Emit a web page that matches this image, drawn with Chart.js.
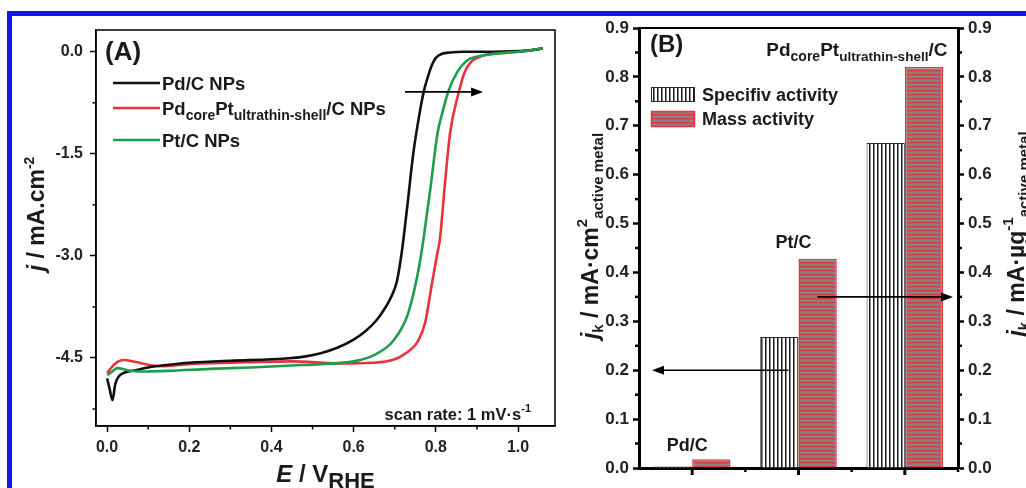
<!DOCTYPE html>
<html>
<head>
<meta charset="utf-8">
<script src="https://cdn.jsdelivr.net/npm/chart.js@4.4.1/dist/chart.umd.min.js"></script>
<style>
  html, body { margin:0; padding:0; background:#fff; }
  body { width:1026px; height:488px; position:relative; overflow:hidden; }
  #marco { position:absolute; left:7px; top:11px; width:1019px; height:477px; border-top:5px solid #1414f0; border-left:5px solid #1414f0; box-sizing:border-box; z-index:5; }
  #boxA { position:absolute; left:0; top:0; width:560px; height:488px; }
  #boxB { position:absolute; left:565px; top:0; width:461px; height:488px; }
</style>
</head>
<body>
<div id="marco"></div>
<div id="boxA"><canvas id="chartA"></canvas></div>
<div id="boxB"><canvas id="chartB"></canvas></div>
<script>
// Datos panel (A): curvas de polarización
const pdE = [0, 0.006, 0.013, 0.02, 0.03, 0.045, 0.07, 0.1, 0.15, 0.2, 0.3, 0.4, 0.45, 0.48, 0.52, 0.56, 0.6, 0.63, 0.655, 0.675, 0.69, 0.705, 0.717, 0.73, 0.745, 0.76, 0.77, 0.78, 0.79, 0.8, 0.815, 0.835, 0.87, 0.93, 1.0, 1.03, 1.06];
const pdJ = [-4.8, -4.95, -5.12, -4.88, -4.76, -4.71, -4.68, -4.64, -4.6, -4.57, -4.54, -4.52, -4.5, -4.48, -4.43, -4.35, -4.23, -4.1, -3.95, -3.78, -3.62, -3.38, -2.95, -2.3, -1.5, -0.92, -0.6, -0.38, -0.2, -0.09, -0.03, -0.01, 0, 0, 0.01, 0.02, 0.05];
const coreE = [0, 0.02, 0.04, 0.07, 0.11, 0.14, 0.2, 0.3, 0.45, 0.565, 0.65, 0.7, 0.722, 0.74, 0.757, 0.774, 0.791, 0.804, 0.81, 0.822, 0.835, 0.856, 0.87, 0.886, 0.913, 0.956, 1.0, 1.03, 1.06];
const coreJ = [-4.72, -4.58, -4.53, -4.56, -4.61, -4.62, -4.59, -4.57, -4.55, -4.58, -4.57, -4.52, -4.45, -4.37, -4.25, -3.98, -3.39, -2.95, -2.75, -1.95, -1.18, -0.59, -0.3, -0.15, -0.06, -0.02, 0, 0.02, 0.05];
const ptE = [0, 0.012, 0.025, 0.05, 0.08, 0.15, 0.25, 0.35, 0.45, 0.52, 0.6, 0.652, 0.696, 0.73, 0.748, 0.761, 0.77, 0.787, 0.804, 0.818, 0.83, 0.852, 0.878, 0.91, 0.956, 1.0, 1.03, 1.06];
const ptJ = [-4.75, -4.7, -4.65, -4.68, -4.7, -4.69, -4.66, -4.64, -4.61, -4.59, -4.55, -4.45, -4.25, -3.89, -3.49, -3.1, -2.75, -2.0, -1.2, -0.85, -0.59, -0.3, -0.12, -0.06, -0.02, 0, 0.02, 0.05];
const xTicksA = [0, 0.2, 0.4, 0.6, 0.8, 1.0];
const xMinorA = [0.1, 0.3, 0.5, 0.7, 0.9];
const yTicksA = [0, -1.5, -3, -4.5];
const yMinorA = [-0.75, -2.25, -3.75, -5.25];

// Datos panel (B): actividades
const categorias = ['Pd/C', 'Pt/C', 'PdcorePt/C'];
const specAct = [0.003, 0.268, 0.665];
const massAct = [0.018, 0.428, 0.82];
const yTicksB = [0, 0.1, 0.2, 0.3, 0.4, 0.5, 0.6, 0.7, 0.8, 0.9];
const yMinorB = [0.05, 0.15, 0.25, 0.35, 0.45, 0.55, 0.65, 0.75, 0.85];

const FONT = '"Liberation Sans", Arial, Helvetica, sans-serif';
const NEGRO = '#111', ROJO = '#e8323c', VERDE = '#1e9e4a';

function setFont(ctx, size, italic) {
    ctx.font = (italic ? 'italic ' : '') + 'bold ' + size + 'px ' + FONT;
}

// texto con subíndices / superíndices
function textoRico(ctx, partes, x, y, align) {
    let w = 0;
    partes.forEach(p => { setFont(ctx, p.s, p.i); w += ctx.measureText(p.t).width; });
    let cx = align === 'center' ? x - w / 2 : (align === 'right' ? x - w : x);
    ctx.textAlign = 'left'; ctx.textBaseline = 'alphabetic';
    partes.forEach(p => {
        setFont(ctx, p.s, p.i);
        ctx.fillText(p.t, cx, y + (p.dy || 0));
        cx += ctx.measureText(p.t).width;
    });
}

function flecha(ctx, x1, y1, x2, y2) {
    const a = Math.atan2(y2 - y1, x2 - x1), L = 12, W = 4.5;
    ctx.beginPath(); ctx.moveTo(x1, y1); ctx.lineTo(x2 - 8 * Math.cos(a), y2 - 8 * Math.sin(a)); ctx.stroke();
    ctx.beginPath();
    ctx.moveTo(x2, y2);
    ctx.lineTo(x2 - L * Math.cos(a) + W * Math.sin(a), y2 - L * Math.sin(a) - W * Math.cos(a));
    ctx.lineTo(x2 - L * Math.cos(a) - W * Math.sin(a), y2 - L * Math.sin(a) + W * Math.cos(a));
    ctx.closePath(); ctx.fill();
}

function linea(ctx, x1, y1, x2, y2) {
    ctx.beginPath(); ctx.moveTo(x1, y1); ctx.lineTo(x2, y2); ctx.stroke();
}

function serie(nombre, xs, ys, color) {
    return {
        label: nombre,
        data: xs.map((v, i) => ({ x: v, y: ys[i] })),
        borderColor: color, borderWidth: 2.6, pointRadius: 0,
        cubicInterpolationMode: 'monotone', fill: false
    };
}

const decoA = {
    id: 'decoA',
    afterDraw(chart) {
        const { ctx, chartArea: a, scales: { x, y } } = chart;
        ctx.save();
        ctx.strokeStyle = '#000'; ctx.fillStyle = '#000'; ctx.lineWidth = 1.5;
        ctx.strokeRect(a.left, a.top, a.right - a.left, a.bottom - a.top);
        xMinorA.forEach(v => { const p = x.getPixelForValue(v); linea(ctx, p, a.bottom, p, a.bottom + 3.5); });
        yMinorA.forEach(v => { const p = y.getPixelForValue(v); linea(ctx, a.left - 3.5, p, a.left, p); });

        // leyenda
        const ley = [
            { c: NEGRO, y: 83, t: [{ t: 'Pd/C NPs', s: 18.5 }] },
            { c: ROJO, y: 108, t: [{ t: 'Pd', s: 18.5 }, { t: 'core', s: 14, dy: 5 }, { t: 'Pt', s: 18.5 }, { t: 'ultrathin-shell', s: 14, dy: 5 }, { t: '/C NPs', s: 18.5 }] },
            { c: VERDE, y: 140, t: [{ t: 'Pt/C NPs', s: 18.5 }] }
        ];
        ley.forEach(l => {
            ctx.strokeStyle = l.c; ctx.lineWidth = 2.6;
            linea(ctx, 113, l.y, 160, l.y);
            ctx.fillStyle = '#1a1a1a';
            textoRico(ctx, l.t, 162, l.y + 6.5, 'left');
        });

        ctx.fillStyle = '#1a1a1a';
        textoRico(ctx, [{ t: '(A)', s: 26 }], 105, 60, 'left');
        textoRico(ctx, [{ t: 'scan rate: 1 mV\u00b7s', s: 16.5 }, { t: '-1', s: 11, dy: -8 }], a.right - 24, a.bottom - 6, 'right');

        // flecha
        ctx.strokeStyle = '#000'; ctx.fillStyle = '#000'; ctx.lineWidth = 1.6;
        flecha(ctx, x.getPixelForValue(0.725), y.getPixelForValue(-0.59), x.getPixelForValue(0.915), y.getPixelForValue(-0.59));

        // títulos de ejes
        ctx.fillStyle = '#1a1a1a';
        textoRico(ctx, [{ t: 'E', s: 24, i: true }, { t: ' / V', s: 24 }, { t: 'RHE', s: 22, dy: 6 }], (a.left + a.right) / 2, 482, 'center');
        ctx.translate(44, 214); ctx.rotate(-Math.PI / 2);
        textoRico(ctx, [{ t: 'j', s: 23, i: true }, { t: ' / mA.cm', s: 23 }, { t: '-2', s: 14, dy: -10 }], 0, 0, 'center');
        ctx.restore();
    }
};

new Chart(document.getElementById('chartA'), {
    type: 'line',
    data: { datasets: [
        serie('Pt/C NPs', ptE, ptJ, VERDE),
        serie('Pd/C NPs', pdE, pdJ, NEGRO),
        serie('Pdcore Ptultrathin-shell/C NPs', coreE, coreJ, ROJO)
    ] },
    options: {
        responsive: true, maintainAspectRatio: false, animation: false,
        layout: { padding: { top: 30, right: 5, left: 0, bottom: 0 } },
        plugins: { legend: { display: false }, tooltip: { enabled: false } },
        scales: {
            x: {
                type: 'linear', min: -0.027, max: 1.09,
                afterBuildTicks: s => { s.ticks = xTicksA.map(v => ({ value: v })); },
                afterFit: s => { s.height = 62; },
                ticks: { callback: v => v.toFixed(1), font: { family: FONT, size: 16, weight: 'bold' }, color: '#222', padding: 6, maxRotation: 0, autoSkip: false },
                grid: { drawOnChartArea: false, tickLength: 6, tickWidth: 1.5, color: '#000' },
                border: { color: '#000', width: 1.5 }
            },
            y: {
                type: 'linear', min: -5.5, max: 0.32,
                afterBuildTicks: s => { s.ticks = yTicksA.map(v => ({ value: v })); },
                afterFit: s => { s.width = 96; },
                ticks: { callback: v => v.toFixed(1), font: { family: FONT, size: 16, weight: 'bold' }, color: '#222', padding: 7 },
                grid: { drawOnChartArea: false, tickLength: 6, tickWidth: 1.5, color: '#000' },
                border: { color: '#000', width: 1.5 }
            }
        }
    },
    plugins: [decoA]
});

// Patrones de relleno de las barras
const ctxB = document.getElementById('chartB').getContext('2d');
function rayasV() {
    const c = document.createElement('canvas'); c.width = 4; c.height = 4;
    const g = c.getContext('2d');
    g.fillStyle = '#fff'; g.fillRect(0, 0, 4, 4);
    g.fillStyle = '#1a1a1a'; g.fillRect(0, 0, 1, 4);
    g.fillStyle = '#8a8a8a'; g.fillRect(1, 0, 1, 4);
    return ctxB.createPattern(c, 'repeat');
}
function rayasH() {
    const c = document.createElement('canvas'); c.width = 4; c.height = 4;
    const g = c.getContext('2d');
    g.fillStyle = '#838383'; g.fillRect(0, 0, 4, 2);
    g.fillStyle = '#d63a4a'; g.fillRect(0, 2, 4, 1);
    g.fillStyle = '#a9616a'; g.fillRect(0, 3, 4, 1);
    return ctxB.createPattern(c, 'repeat');
}
const patV = rayasV(), patH = rayasH();

const decoB = {
    id: 'decoB',
    afterDraw(chart) {
        const { ctx, chartArea: a, scales: { x, y, y1 } } = chart;
        ctx.save();
        ctx.strokeStyle = '#000'; ctx.fillStyle = '#000';
        ctx.lineWidth = 2;
        linea(ctx, a.left, a.top, a.right, a.top);

        // ticks del eje x
        const paso = x.getPixelForValue(1) - x.getPixelForValue(0);
        ctx.lineWidth = 3;
        categorias.forEach((c, i) => { const p = x.getPixelForValue(i); linea(ctx, p, a.bottom, p, a.bottom + 7); });
        ctx.lineWidth = 2.5;
        [0.5, 1.5, 2.5].forEach(v => { const p = x.getPixelForValue(0) + v * paso; linea(ctx, p, a.bottom, p, a.bottom + 4); });
        yMinorB.forEach(v => {
            const p = y.getPixelForValue(v);
            linea(ctx, a.left - 4, p, a.left, p);
            linea(ctx, a.right, p, a.right + 4, p);
        });

        // leyenda
        ctx.lineWidth = 1;
        const lx = a.left + 12;
        ctx.fillStyle = patV; ctx.fillRect(lx, 87, 44, 15);
        ctx.strokeStyle = '#2a2a2a'; ctx.strokeRect(lx + 0.5, 87.5, 43, 14);
        ctx.fillStyle = patH; ctx.fillRect(lx, 111, 44, 16);
        ctx.strokeStyle = ROJO; ctx.lineWidth = 1.5; ctx.strokeRect(lx + 0.5, 111.5, 43, 15);
        ctx.fillStyle = '#1a1a1a';
        textoRico(ctx, [{ t: 'Specifiv activity', s: 18 }], lx + 51, 101, 'left');
        textoRico(ctx, [{ t: 'Mass activity', s: 18 }], lx + 51, 125, 'left');

        // etiquetas
        textoRico(ctx, [{ t: '(B)', s: 24 }], a.left + 11, 52, 'left');
        textoRico(ctx, [{ t: 'Pd/C', s: 18 }], x.getPixelForValue(0) - 5, y1.getPixelForValue(massAct[0]) - 8, 'center');
        textoRico(ctx, [{ t: 'Pt/C', s: 18 }], x.getPixelForValue(1) - 5, y1.getPixelForValue(massAct[1]) - 11, 'center');
        textoRico(ctx, [{ t: 'Pd', s: 19 }, { t: 'core', s: 14, dy: 5 }, { t: 'Pt', s: 19 }, { t: 'ultrathin-shell', s: 13.5, dy: 5 }, { t: '/C', s: 19 }],
            x.getPixelForValue(2) - 48, y1.getPixelForValue(massAct[2]) - 11, 'center');

        // flechas
        ctx.strokeStyle = '#000'; ctx.fillStyle = '#000'; ctx.lineWidth = 1.6;
        flecha(ctx, x.getPixelForValue(1) - 10, y.getPixelForValue(0.2), a.left + 13, y.getPixelForValue(0.2));
        flecha(ctx, x.getPixelForValue(1) + 19, y1.getPixelForValue(0.35), a.right - 5, y1.getPixelForValue(0.35));

        // títulos de ejes
        ctx.fillStyle = '#1a1a1a';
        ctx.save();
        ctx.translate(33, 236); ctx.rotate(-Math.PI / 2);
        textoRico(ctx, [{ t: 'j', s: 23, i: true }, { t: 'k', s: 15, dy: 5 }, { t: ' / mA\u00b7cm', s: 23 }, { t: '2', s: 15, dy: -11 }, { t: 'active metal', s: 15, dy: 5 }], 0, 0, 'center');
        ctx.restore();
        ctx.translate(459, 234); ctx.rotate(-Math.PI / 2);
        textoRico(ctx, [{ t: 'j', s: 23, i: true }, { t: 'k', s: 15, dy: 5 }, { t: ' / mA\u00b7\u00b5g', s: 23 }, { t: '-1', s: 15, dy: -11 }, { t: 'active metal', s: 15, dy: 5 }], 0, 0, 'center');
        ctx.restore();
    }
};

const ejeY = (pos, ancho) => ({
    position: pos, min: 0, max: 0.9,
    afterBuildTicks: s => { s.ticks = yTicksB.map(v => ({ value: v })); },
    afterFit: s => { s.width = ancho; },
    ticks: { callback: v => v.toFixed(1), font: { family: FONT, size: 17, weight: 'bold' }, color: '#222', padding: 4 },
    grid: { drawOnChartArea: false, tickLength: 6, tickWidth: 2.5, color: '#000' },
    border: { color: '#000', width: 3 }
});

new Chart(ctxB, {
    type: 'bar',
    data: {
        labels: categorias,
        datasets: [
            { label: 'Specifiv activity', data: specAct, yAxisID: 'y', backgroundColor: patV, borderColor: '#2a2a2a', borderWidth: 1, categoryPercentage: 0.72, barPercentage: 1 },
            { label: 'Mass activity', data: massAct, yAxisID: 'y1', backgroundColor: patH, borderColor: ROJO, borderWidth: 1.5, categoryPercentage: 0.72, barPercentage: 1 }
        ]
    },
    options: {
        responsive: true, maintainAspectRatio: false, animation: false,
        layout: { padding: { top: 28, right: 0, left: 0, bottom: 0 } },
        plugins: { legend: { display: false }, tooltip: { enabled: false } },
        scales: {
            x: {
                type: 'category', offset: true,
                grid: { display: false }, ticks: { display: false },
                border: { color: '#000', width: 3 },
                afterFit: s => { s.height = 20; }
            },
            y: ejeY('left', 74),
            y1: ejeY('right', 68)
        }
    },
    plugins: [decoB]
});
</script>
</body>
</html>
